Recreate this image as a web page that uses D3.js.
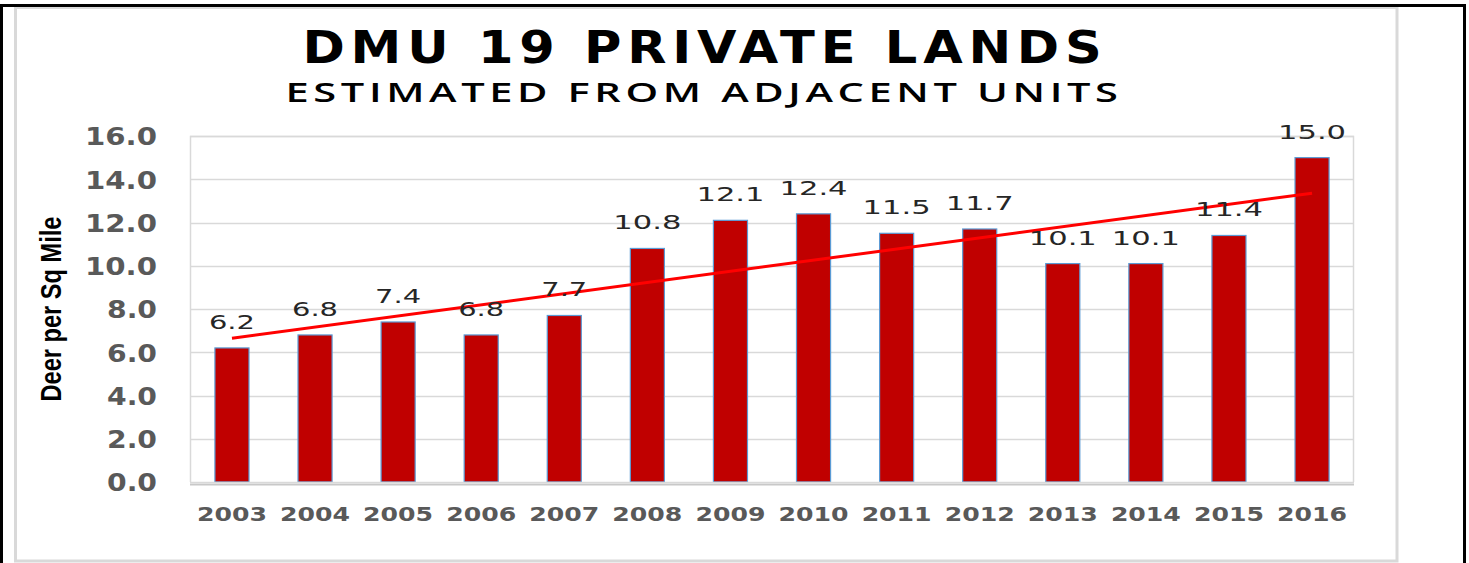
<!DOCTYPE html>
<html>
<head>
<meta charset="utf-8">
<script src="https://cdn.jsdelivr.net/npm/d3@7"></script>
<style>
  html, body { margin: 0; padding: 0; background: #fff; }
  svg { display: block; }
</style>
</head>
<body>
<svg id="chart"></svg>
<script>
const years = ["2003", "2004", "2005", "2006", "2007", "2008", "2009", "2010", "2011", "2012", "2013", "2014", "2015", "2016"];
const density = [6.2, 6.8, 7.4, 6.8, 7.7, 10.8, 12.1, 12.4, 11.5, 11.7, 10.1, 10.1, 11.4, 15.0];
const yTicks = [0, 2, 4, 6, 8, 10, 12, 14, 16];
const title = "DMU 19 PRIVATE LANDS";
const subtitle = "ESTIMATED FROM ADJACENT UNITS";
const yTitle = "Deer per Sq Mile";

const W = 1469, H = 563;
const plot = {left: 190, right: 1354, top: 136, bottom: 482};

// the original uses wide, stretched glyphs; fit text to a width per character
const fit = (sel, perChar, offset) => sel
    .attr("textLength", function () { return this.textContent.length * perChar + offset; })
    .attr("lengthAdjust", "spacingAndGlyphs");

const svg = d3.select("#chart")
    .attr("width", W)
    .attr("height", H)
    .attr("viewBox", [0, 0, W, H]);

// outer frame: grey chart area + black cell border
svg.append("rect")
    .attr("x", 15.5).attr("y", 7.5)
    .attr("width", 1397 - 15.5).attr("height", 561 - 7.5)
    .style("fill", "#fff")
    .style("stroke", "#d9d9d9")
    .style("stroke-width", 3);

svg.append("path")
    .attr("d", `M1.5,${H} V5.5 H1464.5 V${H}`)
    .style("fill", "none")
    .style("stroke", "#000")
    .style("stroke-width", 3);

const x = d3.scaleBand()
    .domain(years)
    .range([plot.left, plot.right])
    .paddingInner(0.59)
    .paddingOuter(0.3);

const y = d3.scaleLinear()
    .domain([0, 16])
    .range([plot.bottom, plot.top]);

// gridlines
svg.append("g")
    .selectAll("line")
    .data(yTicks.filter(d => d > 0))
    .join("line")
    .attr("x1", plot.left).attr("x2", plot.right)
    .attr("y1", d => Math.round(y(d)) + 0.5)
    .attr("y2", d => Math.round(y(d)) + 0.5)
    .style("stroke", "#d9d9d9")
    .style("stroke-width", 1.5);

svg.append("path")
    .attr("d", `M${plot.left + 0.5},${plot.bottom} V${plot.top + 0.5} H${plot.right - 0.5} V${plot.bottom}`)
    .style("fill", "none")
    .style("stroke", "#d9d9d9")
    .style("stroke-width", 1.5);

// y axis labels
const yAxis = svg.append("g")
    .attr("transform", `translate(157,0)`)
    .call(d3.axisLeft(y).tickValues(yTicks).tickFormat(d3.format(".1f")).tickSize(0).tickPadding(0));
yAxis.select(".domain").remove();
yAxis.selectAll("text")
    .style("font", "bold 24px 'DejaVu Sans', Verdana, sans-serif")
    .style("fill", "#595959")
    .attr("dy", "0.37em")
    .call(fit, 22, -16);

// bars
svg.append("g")
    .selectAll("rect")
    .data(density)
    .join("rect")
    .attr("x", (d, i) => x(years[i]))
    .attr("y", d => y(d))
    .attr("width", x.bandwidth())
    .attr("height", d => y(0) - y(d))
    .style("fill", "#c00000")
    .style("stroke", "#5b9bd5")
    .style("stroke-width", 1.2);

// x axis line with shadow
svg.append("line")
    .attr("x1", plot.left).attr("x2", plot.right)
    .attr("y1", plot.bottom + 2.5).attr("y2", plot.bottom + 2.5)
    .style("stroke", "#c8c8c8")
    .style("stroke-width", 2);
svg.append("line")
    .attr("x1", plot.left).attr("x2", plot.right)
    .attr("y1", plot.bottom + 0.5).attr("y2", plot.bottom + 0.5)
    .style("stroke", "#d9d9d9")
    .style("stroke-width", 1.5);

// x axis labels
const xAxis = svg.append("g")
    .attr("transform", `translate(0,${plot.bottom})`)
    .call(d3.axisBottom(x).tickSize(0).tickPadding(25));
xAxis.select(".domain").remove();
xAxis.selectAll("text")
    .style("font", "bold 20px 'DejaVu Sans', Verdana, sans-serif")
    .style("fill", "#595959")
    .attr("dy", "0.71em")
    .call(fit, 17.5, 0);

// linear trendline
const n = density.length;
const xs = d3.range(1, n + 1);
const mx = d3.mean(xs), my = d3.mean(density);
const slope = d3.sum(xs, (v, i) => (v - mx) * (density[i] - my)) / d3.sum(xs, v => (v - mx) ** 2);
const icpt = my - slope * mx;
const trend = [0, n - 1].map(i => ({year: years[i], v: icpt + slope * xs[i]}));

svg.append("path")
    .datum(trend)
    .attr("d", d3.line()
        .x(d => x(d.year) + x.bandwidth() / 2)
        .y(d => y(d.v)))
    .style("fill", "none")
    .style("stroke", "#ff0000")
    .style("stroke-width", 3);

// data labels
svg.append("g")
    .selectAll("text")
    .data(density)
    .join("text")
    .attr("x", (d, i) => x(years[i]) + x.bandwidth() / 2)
    .attr("y", d => y(d) - 19)
    .attr("text-anchor", "middle")
    .style("font", "20px 'DejaVu Sans', Verdana, sans-serif")
    .style("fill", "#262626")
    .text(d => d.toFixed(1))
    .call(fit, 22, -20);

// titles
svg.append("text")
    .attr("x", 705).attr("y", 63)
    .attr("text-anchor", "middle")
    .style("font", "bold 44px 'DejaVu Sans', sans-serif")
    .style("letter-spacing", "5px")
    .style("fill", "#000")
    .text(title)
    .attr("textLength", 805)
    .attr("lengthAdjust", "spacingAndGlyphs");

svg.append("text")
    .attr("x", 704).attr("y", 102)
    .attr("text-anchor", "middle")
    .style("font", "600 27px 'Open Sans', 'DejaVu Sans', sans-serif")
    .style("letter-spacing", "3px")
    .style("fill", "#000")
    .text(subtitle)
    .attr("textLength", 837)
    .attr("lengthAdjust", "spacingAndGlyphs");

svg.append("text")
    .attr("transform", "translate(61,309) rotate(-90)")
    .attr("text-anchor", "middle")
    .attr("textLength", 185)
    .attr("lengthAdjust", "spacingAndGlyphs")
    .style("font", "bold 30px 'Liberation Sans Narrow', 'Liberation Sans', sans-serif")
    .style("fill", "#000")
    .text(yTitle);
</script>
</body>
</html>
